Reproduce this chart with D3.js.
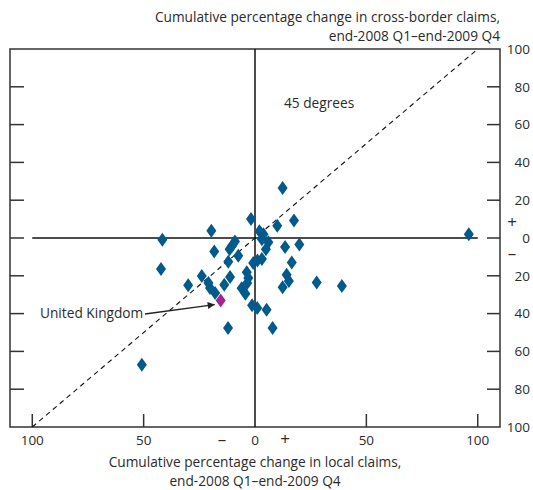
<!DOCTYPE html>
<html><head><meta charset="utf-8">
<script src="https://cdn.jsdelivr.net/npm/d3@7"></script>
<style>body{margin:0;background:#fff}text{font-family:"Open Sans",sans-serif;fill:#2b2b2b}</style>
</head><body><svg id="c" width="533" height="490"></svg>
<script>
// Data: [local claims % change, cross-border claims % change]
const localChange = [12.4,-1.8,-19.6,17.5,10.0,-41.6,2.0,3.8,3.1,6.0,4.9,13.5,19.9,-18.3,-9.0,-10.3,-11.4,-7.5,-12.0,-42.2,-0.8,1.1,3.1,16.5,-23.9,-11.2,-3.7,-3.0,-20.9,-30.0,-13.8,14.2,15.2,27.7,39.0,12.4,-6.0,-3.5,-4.3,-20.2,-17.9,-1.3,1.0,5.2,-12.1,7.9,-50.8,96.0];
const crossBorderChange = [26.5,10.1,3.9,9.3,6.5,-0.9,3.6,2.0,-0.6,-2.3,-5.9,-4.8,-3.5,-7.1,-1.8,-4.1,-5.9,-9.4,-12.5,-16.4,-13.2,-11.9,-11.1,-12.9,-20.1,-20.7,-18.1,-21.2,-23.8,-25.0,-24.7,-19.4,-22.8,-23.5,-25.4,-26.0,-26.6,-23.8,-29.5,-26.5,-29.1,-35.6,-37.0,-37.9,-47.6,-47.6,-67.0,2.0];
const ukPoint = [-15.4, -33.1];
const xTicks = [-100,-50,0,50,100];
const yTicks = [-100,-80,-60,-40,-20,0,20,40,60,80,100];

const svg = d3.select("#c");
const L=10, R=500, T=49, B=427;
const x = d3.scaleLinear().domain([-110,110]).range([L,R]);
const y = d3.scaleLinear().domain([-100,100]).range([B,T]);
const ink="#333";

// frame
svg.append("rect").attr("x",L).attr("y",T).attr("width",R-L).attr("height",B-T)
  .attr("fill","none").attr("stroke",ink).attr("stroke-width",1.5);

// y ticks left & right (inward), skip ends
yTicks.filter(v=>v>-100&&v<100).forEach(v=>{
  svg.append("line").attr("x1",L).attr("x2",L+14).attr("y1",y(v)).attr("y2",y(v)).attr("stroke",ink).attr("stroke-width",1.5);
  svg.append("line").attr("x1",R-13).attr("x2",R).attr("y1",y(v)).attr("y2",y(v)).attr("stroke",ink).attr("stroke-width",1.5);
});
// x ticks bottom (inward)
xTicks.filter(v=>v!==0).forEach(v=>{
  svg.append("line").attr("x1",x(v)).attr("x2",x(v)).attr("y1",B).attr("y2",B-13).attr("stroke",ink).attr("stroke-width",1.5);
});

// zero lines
svg.append("line").attr("x1",x(-100)).attr("x2",x(100)).attr("y1",y(0)).attr("y2",y(0)).attr("stroke","#111").attr("stroke-width",1.5);
svg.append("line").attr("x1",x(0)).attr("x2",x(0)).attr("y1",T).attr("y2",B).attr("stroke","#111").attr("stroke-width",1.5);

// 45 degree dashed line
svg.append("line").attr("x1",x(-100)).attr("y1",y(-100)).attr("x2",x(100)).attr("y2",y(100))
  .attr("stroke","#111").attr("stroke-width",1.1).attr("stroke-dasharray","5,4");

// y labels (right)
yTicks.forEach(v=>{
  svg.append("text").attr("x",530).attr("y",y(v)).attr("dy","0.35em").attr("text-anchor","end")
    .attr("font-size",13.5).text(Math.abs(v));
});
svg.append("text").attr("x",512).attr("y",y(0)-16).attr("dy","0.35em").attr("text-anchor","middle").attr("font-size",17).text("+");
svg.append("text").attr("x",512).attr("y",y(0)+15).attr("dy","0.35em").attr("text-anchor","middle").attr("font-size",17).text("–");

// x labels
xTicks.forEach(v=>{
  svg.append("text").attr("x",x(v)).attr("y",445).attr("text-anchor","middle").attr("font-size",13.5).text(Math.abs(v));
});
svg.append("text").attr("x",x(0)-33).attr("y",445).attr("text-anchor","middle").attr("font-size",17).text("–");
svg.append("text").attr("x",x(0)+30).attr("y",445).attr("text-anchor","middle").attr("font-size",17).text("+");

// titles
svg.append("text").attr("x",500).attr("y",22).attr("text-anchor","end").attr("font-size",13.7).text("Cumulative percentage change in cross-border claims,");
svg.append("text").attr("x",500).attr("y",41).attr("text-anchor","end").attr("font-size",13.7).text("end-2008 Q1–end-2009 Q4");
svg.append("text").attr("x",x(0)).attr("y",467).attr("text-anchor","middle").attr("font-size",13.7).text("Cumulative percentage change in local claims,");
svg.append("text").attr("x",x(0)).attr("y",486).attr("text-anchor","middle").attr("font-size",13.7).text("end-2008 Q1–end-2009 Q4");
svg.append("text").attr("x",284).attr("y",108).attr("font-size",13.7).text("45 degrees");

// points
const diamond = "M0,-7L5,0L0,7L-5,0Z";
svg.append("g").selectAll("path").data(d3.zip(localChange, crossBorderChange)).join("path")
  .attr("d",diamond).attr("transform",d=>`translate(${x(d[0])},${y(d[1])})`).attr("fill","#005a8c");
svg.append("path").attr("d",diamond).attr("transform",`translate(${x(ukPoint[0])},${y(ukPoint[1])})`).attr("fill","#a5238f");

// UK label + arrow
svg.append("defs").append("marker").attr("id","ah").attr("viewBox","0 0 10 10").attr("refX",10).attr("refY",5)
  .attr("markerWidth",10).attr("markerHeight",7).attr("orient","auto").attr("markerUnits","userSpaceOnUse")
  .append("path").attr("d","M0,0L10,5L0,10Z").attr("fill","#222");
svg.append("text").attr("x",40).attr("y",318).attr("font-size",13.7).text("United Kingdom");
svg.append("line").attr("x1",145).attr("y1",314).attr("x2",x(ukPoint[0])-6).attr("y2",y(ukPoint[1])+4)
  .attr("stroke","#222").attr("stroke-width",1.3).attr("marker-end","url(#ah)");
</script></body></html>
